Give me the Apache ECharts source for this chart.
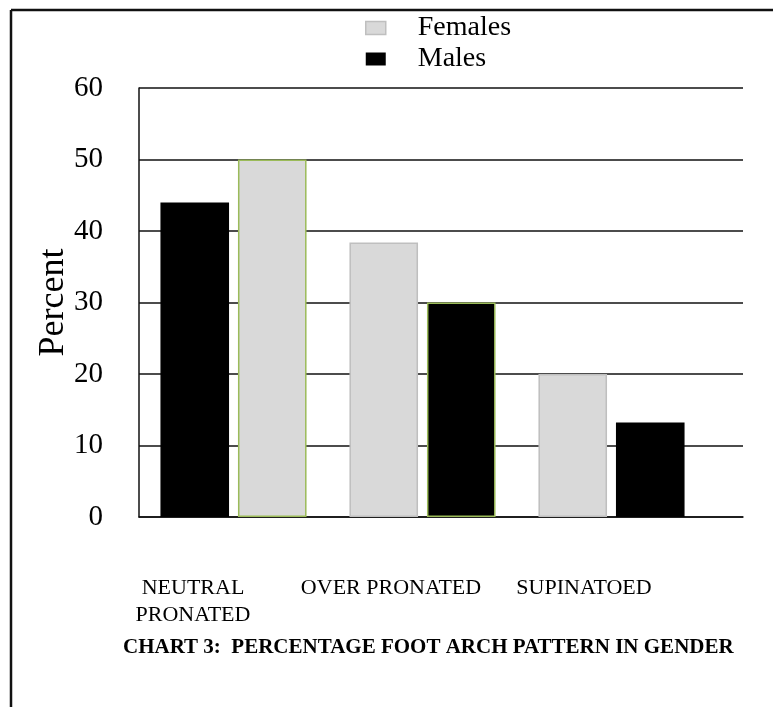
<!DOCTYPE html>
<html>
<head>
<meta charset="utf-8">
<script src="https://cdn.jsdelivr.net/npm/echarts@6/dist/echarts.min.js"></script>
<style>
	html, body { margin: 0; padding: 0; background: #fff; }
	#chart3 { width: 773px; height: 707px; }
</style>
</head>
<body>
<div id="chart3"></div>
<script>
var categories = ['NEUTRAL\nPRONATED', 'OVER PRONATED', 'SUPINATOED'];
var females = [50, 38.4, 20];
var males = [44, 30, 13.2];
// which gender is drawn in the left slot of each pair
var leftGender = ['Males', 'Females', 'Females'];
var yTicks = [0, 10, 20, 30, 40, 50, 60];

var serif = 'Liberation Serif, Times New Roman, serif';
var grey = '#d9d9d9', greyLine = '#bfbfbf', green = '#9bbb59';
// the label offsets under each pair
var labelPad = [[0, 81, 0, 0], [0, 63, 0, 0], [0, 55, 0, 0]];

var chart = echarts.init(document.getElementById('chart3'));

function barItem(gender, value, greenEdge) {
	var isF = gender == 'Females';
	return {
		value: value,
		itemStyle: {
			color: isF ? grey : '#000',
			borderColor: greenEdge ? green : (isF ? greyLine : '#000'),
			borderWidth: 1.5
		}
	};
}

var leftData = [], rightData = [];
for (var i = 0; i < categories.length; i++) {
	var lg = leftGender[i], rg = lg == 'Females' ? 'Males' : 'Females';
	var lv = lg == 'Females' ? females[i] : males[i];
	var rv = rg == 'Females' ? females[i] : males[i];
	// the first two right-hand bars have green outlines in the source
	leftData.push(barItem(lg, lv, false));
	rightData.push(barItem(rg, rv, i < 2));
}

var option = {
	animation: false,
	title: {
		text: 'CHART 3:  PERCENTAGE FOOT ARCH PATTERN IN GENDER',
		left: 118,
		top: 632,
		textStyle: { fontFamily: serif, fontSize: 21, fontWeight: 'bold', color: '#000' }
	},
	legend: {
		orient: 'vertical',
		left: 360,
		top: 9,
		itemWidth: 20,
		itemHeight: 13,
		itemGap: 3,
		textStyle: { fontFamily: serif, fontSize: 28, color: '#000', lineHeight: 28, padding: [0, 0, 0, 27] },
		data: [
			{ name: 'Females', icon: 'rect', itemStyle: { color: grey, borderColor: greyLine, borderWidth: 1.5 } },
			{ name: 'Males', icon: 'rect', itemStyle: { color: '#000', borderColor: '#000', borderWidth: 0 } }
		]
	},
	grid: [
		{ left: 139, width: 567, top: 88, bottom: 190 },
		{ left: 139, right: 30, top: 88, bottom: 190 }
	],
	xAxis: [{
		type: 'category',
		gridIndex: 0,
		data: categories.map(function(c, i) {
			return { value: c, textStyle: { padding: labelPad[i] } };
		}),
		axisLine: { show: false },
		axisTick: { show: false },
		axisLabel: { margin: 58, fontFamily: serif, fontSize: 22, lineHeight: 27, color: '#000', interval: 0 }
	}, {
		type: 'value',
		gridIndex: 1,
		min: 0,
		max: 1,
		axisLine: { show: true, lineStyle: { color: '#111', width: 1.5 } },
		axisTick: { show: false },
		axisLabel: { show: false },
		splitLine: { show: false }
	}],
	yAxis: [{
		type: 'value',
		gridIndex: 0,
		min: yTicks[0],
		max: yTicks[yTicks.length - 1],
		interval: 10,
		name: 'Percent',
		nameLocation: 'middle',
		nameGap: 67,
		nameMoveOverlap: false,
		nameTextStyle: { fontFamily: serif, fontSize: 36, color: '#000' },
		axisLine: { show: true, lineStyle: { color: '#111', width: 1.5 } },
		axisTick: { show: false },
		axisLabel: { margin: 36, fontFamily: serif, fontSize: 29, color: '#000' },
		splitLine: { show: false }
	}, {
		type: 'value',
		gridIndex: 1,
		min: yTicks[0],
		max: yTicks[yTicks.length - 1],
		interval: 10,
		axisLine: { show: false },
		axisTick: { show: false },
		axisLabel: { show: false },
		splitLine: { show: true, lineStyle: { color: '#111', width: 1.5 } }
	}],
	series: [{
		name: 'left',
		type: 'bar',
		xAxisIndex: 0,
		yAxisIndex: 0,
		barGap: '13%',
		barCategoryGap: '22.7%',
		data: leftData
	}, {
		name: 'right',
		type: 'bar',
		xAxisIndex: 0,
		yAxisIndex: 0,
		data: rightData
	}, {
		name: 'Females', type: 'line', xAxisIndex: 0, yAxisIndex: 0, data: [], itemStyle: { color: grey }
	}, {
		name: 'Males', type: 'line', xAxisIndex: 0, yAxisIndex: 0, data: [], itemStyle: { color: '#000' }
	}],
	graphic: [
		{ type: 'line', shape: { x1: 11, y1: 10, x2: 773, y2: 10 }, style: { stroke: '#111', lineWidth: 2.5 } },
		{ type: 'line', shape: { x1: 11, y1: 10, x2: 11, y2: 707 }, style: { stroke: '#111', lineWidth: 2.5 } }
	]
};

chart.setOption(option);
</script>
</body>
</html>
